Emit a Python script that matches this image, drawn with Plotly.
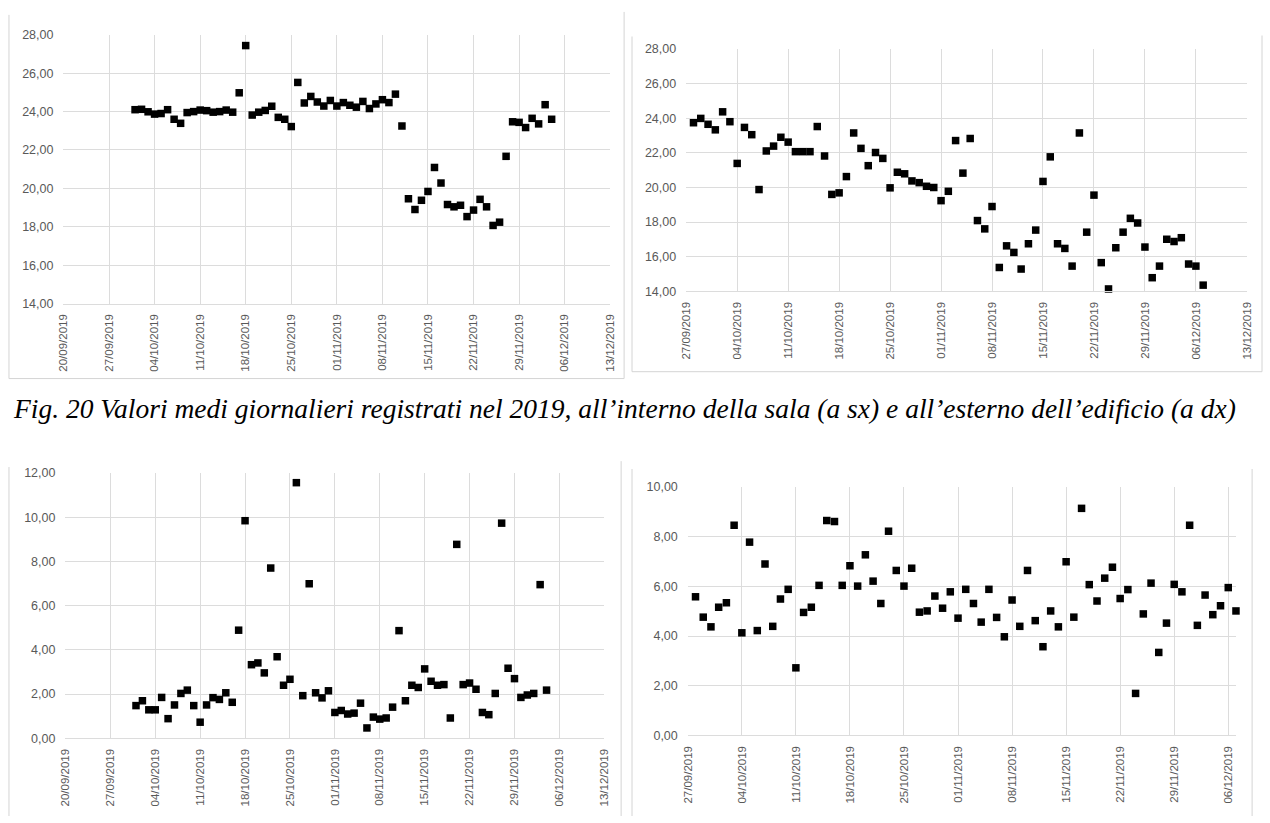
import pandas as pd
import plotly.graph_objects as go

W, H = 1270, 823

# ---- daily mean values (one value per day, consecutive days) ----
# top-left: inside the hall, from 01/10/2019
sala_start = "2019-10-01"
sala_top = [
    24.10, 24.12, 23.99, 23.87, 23.90, 24.10, 23.60, 23.39, 23.95, 24.00,
    24.08, 24.05, 23.97, 24.00, 24.08, 23.97, 24.98, 27.44, 23.82, 23.97,
    24.06, 24.28, 23.70, 23.60, 23.22, 25.52, 24.45, 24.79, 24.50, 24.29,
    24.58, 24.29, 24.47, 24.33, 24.23, 24.53, 24.16, 24.40, 24.62, 24.47,
    24.91, 23.25, 19.46, 18.90, 19.38, 19.84, 21.09, 20.28, 19.16, 19.04,
    19.12, 18.53, 18.87, 19.43, 19.04, 18.07, 18.24, 21.67, 23.47, 23.44,
    23.17, 23.65, 23.36, 24.36, 23.60,
]
# top-right: outside the building, from 28/09/2019
esterno_start = "2019-09-28"
esterno_top = [
    23.74, 23.99, 23.65, 23.33, 24.37, 23.80, 21.39, 23.47, 23.05, 19.88,
    22.11, 22.39, 22.90, 22.62, 22.07, 22.07, 22.07, 23.52, 21.82, 19.60,
    19.69, 20.63, 23.15, 22.26, 21.26, 22.02, 21.68, 19.98, 20.88, 20.79,
    20.38, 20.28, 20.07, 20.00, 19.24, 19.78, 22.71, 20.83, 22.83, 18.09,
    17.61, 18.90, 15.38, 16.63, 16.25, 15.29, 16.75, 17.54, 20.35, 21.77,
    16.75, 16.48, 15.46, 23.15, 17.42, 19.56, 15.66, 14.14, 16.52, 17.42,
    18.22, 17.95, 16.56, 14.79, 15.46, 17.01, 16.88, 17.10, 15.58, 15.46,
    14.36,
]
# bottom-left: inside the hall, from 01/10/2019
sala_bottom = [
    1.48, 1.70, 1.29, 1.29, 1.85, 0.89, 1.51, 2.03, 2.18, 1.48,
    0.73, 1.51, 1.84, 1.76, 2.06, 1.63, 4.89, 9.84, 3.33, 3.41,
    2.96, 7.70, 3.69, 2.40, 2.67, 11.56, 1.93, 6.99, 2.06, 1.83,
    2.15, 1.17, 1.26, 1.10, 1.14, 1.59, 0.47, 0.96, 0.87, 0.92,
    1.41, 4.87, 1.70, 2.40, 2.30, 3.14, 2.58, 2.40, 2.43, 0.92,
    8.77, 2.43, 2.50, 2.22, 1.17, 1.07, 2.03, 9.73, 3.17, 2.70,
    1.85, 1.96, 2.03, 6.95, 2.18,
]
# bottom-right: outside the building, from 28/09/2019
esterno_bottom = [
    5.58, 4.76, 4.37, 5.16, 5.34, 8.46, 4.13, 7.78, 4.22, 6.90,
    4.39, 5.49, 5.88, 2.72, 4.95, 5.16, 6.04, 8.65, 8.61, 6.04,
    6.83, 6.01, 7.27, 6.21, 5.31, 8.22, 6.64, 6.01, 6.73, 4.96,
    5.01, 5.61, 5.12, 5.78, 4.72, 5.88, 5.31, 4.56, 5.88, 4.75,
    3.97, 5.45, 4.39, 6.64, 4.62, 3.57, 5.01, 4.37, 6.99, 4.76,
    9.14, 6.07, 5.41, 6.33, 6.77, 5.51, 5.87, 1.69, 4.89, 6.13,
    3.34, 4.52, 6.08, 5.78, 8.46, 4.43, 5.65, 4.86, 5.22, 5.95,
    5.01,
]

caption = ("Fig. 20 Valori medi giornalieri registrati nel 2019, all\u2019interno "
           "della sala (a sx) e all\u2019esterno dell\u2019edificio (a dx)")

GRID = "#dcdcdc"
TICK_COLOR = "#595959"
BORDER = "#d4d4d4"
FONT = "Liberation Sans"
SERIF = "'Liberation Serif', 'Times New Roman', 'DejaVu Serif', serif"

# plot boxes in pixels: (left, right, top, bottom)
panels = [
    dict(y=sala_top, start=sala_start, xr=("2019-09-20", "2019-12-13"),
         yr=(14, 28), box=(58, 610, 28.3, 301.7)),
    dict(y=esterno_top, start=esterno_start, xr=("2019-09-27", "2019-12-13"),
         yr=(14, 28), box=(686.7, 1252.7, 42.7, 289.3)),
    dict(y=sala_bottom, start=sala_start, xr=("2019-09-20", "2019-12-13"),
         yr=(0, 12), box=(60, 604, 474, 744)),
    dict(y=esterno_bottom, start=esterno_start, xr=("2019-09-27", "2019-12-07"),
         yr=(0, 10), box=(688.3, 1241.7, 488.3, 741)),
]


def px_x(v):
    return v / W


def px_y(v):
    return 1 - v / H


fig = go.Figure()
layout = {}
for i, p in enumerate(panels, start=1):
    sfx = "" if i == 1 else str(i)
    dates = pd.date_range(p["start"], periods=len(p["y"]), freq="D")
    fig.add_trace(go.Scatter(
        x=dates, y=p["y"], mode="markers",
        marker=dict(symbol="square", size=7.5, color="black",
                    line=dict(width=0)),
        xaxis="x" + sfx, yaxis="y" + sfx, showlegend=False,
        cliponaxis=False, hoverinfo="x+y",
    ))
    l, r, t, b = p["box"]
    layout["xaxis" + sfx] = dict(
        domain=[px_x(l), px_x(r)], anchor="y" + sfx, type="date",
        range=list(p["xr"]), tick0=p["xr"][0], dtick=7 * 86400000,
        tickformat="%d/%m/%Y", tickangle=-90,
        showgrid=True, gridcolor=GRID, gridwidth=1,
        showline=True, linecolor=GRID, linewidth=1,
        ticks="", ticklabelstandoff=5,
        tickfont=dict(family=FONT, size=11.5, color=TICK_COLOR),
        zeroline=False, fixedrange=True,
    )
    layout["yaxis" + sfx] = dict(
        domain=[px_y(b), px_y(t)], anchor="x" + sfx,
        range=list(p["yr"]), dtick=2, tickformat=".2f",
        showgrid=True, gridcolor=GRID, gridwidth=1,
        showline=False, zeroline=False, ticks="", ticklabelstandoff=9,
        tickfont=dict(family=FONT, size=12.5, color=TICK_COLOR),
        fixedrange=True,
    )

# thin frames around each chart
frame_lines = [
    (3, 8, 3, 378), (3, 378, 624, 378), (624, 5, 624, 378),          # top-left
    (632, 30, 632, 371), (632, 371, 1268, 371), (1268, 29, 1268, 371),  # top-right
    (3, 468, 3, 823), (621, 462, 621, 823),                         # bottom-left
    (632, 470, 632, 823), (1258, 470, 1258, 823),                   # bottom-right
]
shapes = [
    dict(type="line", xref="paper", yref="paper",
         x0=px_x(x0), y0=px_y(y0), x1=px_x(x1), y1=px_y(y1),
         line=dict(color=BORDER, width=1))
    for x0, y0, x1, y1 in frame_lines
]

fig.update_layout(
    **layout,
    width=W, height=H,
    margin=dict(l=0, r=0, t=0, b=0),
    paper_bgcolor="white", plot_bgcolor="white",
    separators=",.",
    shapes=shapes,
    annotations=[dict(
        text="<i>" + caption + "</i>", xref="paper", yref="paper",
        x=px_x(5), y=px_y(408), xanchor="left", yanchor="middle",
        showarrow=False,
        font=dict(family=SERIF, size=27.5, color="black"),
    )],
)

fig.write_html("out.html")
